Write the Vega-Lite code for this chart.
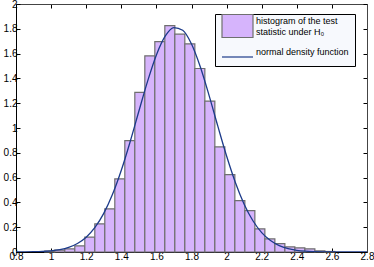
{
  "$schema": "https://vega.github.io/schema/vega-lite/v6.json",
  "width": 351,
  "height": 248,
  "autosize": {"type": "none"},
  "padding": {"left": 16, "top": 4, "right": 7, "bottom": 15},
  "background": "white",
  "config": {
    "view": {"stroke": null},
    "axis": {
      "labelFont": "Liberation Sans",
      "labelFontSize": 10,
      "labelColor": "#000",
      "labelFlush": false,
      "labelOverlap": false,
      "domainColor": "#000",
      "domainWidth": 1,
      "tickColor": "#000",
      "tickSize": -4,
      "tickWidth": 1,
      "grid": false,
      "title": null,
      "labelPadding": 3
    },
    "legend": {
      "labelFont": "Liberation Sans",
      "labelFontSize": 9,
      "labelColor": "#000",
      "orient": "none",
      "legendX": 199,
      "legendY": 10,
      "title": null,
      "strokeColor": "#000",
      "fillColor": "#f7f9fd",
      "padding": 6,
      "symbolSize": 100,
      "symbolOpacity": 1,
      "symbolStrokeWidth": 1.2,
      "labelOffset": 23,
      "labelLimit": 300,
      "rowPadding": 8,
      "labelBaseline": "bottom"
    }
  },
  "data": {
    "values": [
      {"lo": 0.964, "hi": 1.021, "h": 0.008, "s": "hist"},
      {"lo": 1.021, "hi": 1.078, "h": 0.015, "s": "hist"},
      {"lo": 1.078, "hi": 1.135, "h": 0.026, "s": "hist"},
      {"lo": 1.135, "hi": 1.192, "h": 0.05, "s": "hist"},
      {"lo": 1.192, "hi": 1.249, "h": 0.12, "s": "hist"},
      {"lo": 1.249, "hi": 1.306, "h": 0.227, "s": "hist"},
      {"lo": 1.306, "hi": 1.363, "h": 0.348, "s": "hist"},
      {"lo": 1.363, "hi": 1.42, "h": 0.589, "s": "hist"},
      {"lo": 1.42, "hi": 1.477, "h": 0.898, "s": "hist"},
      {"lo": 1.477, "hi": 1.534, "h": 1.287, "s": "hist"},
      {"lo": 1.534, "hi": 1.591, "h": 1.582, "s": "hist"},
      {"lo": 1.591, "hi": 1.648, "h": 1.697, "s": "hist"},
      {"lo": 1.648, "hi": 1.705, "h": 1.826, "s": "hist"},
      {"lo": 1.705, "hi": 1.762, "h": 1.757, "s": "hist"},
      {"lo": 1.762, "hi": 1.819, "h": 1.679, "s": "hist"},
      {"lo": 1.819, "hi": 1.876, "h": 1.48, "s": "hist"},
      {"lo": 1.876, "hi": 1.933, "h": 1.217, "s": "hist"},
      {"lo": 1.933, "hi": 1.99, "h": 0.847, "s": "hist"},
      {"lo": 1.99, "hi": 2.047, "h": 0.624, "s": "hist"},
      {"lo": 2.047, "hi": 2.104, "h": 0.415, "s": "hist"},
      {"lo": 2.104, "hi": 2.161, "h": 0.334, "s": "hist"},
      {"lo": 2.161, "hi": 2.218, "h": 0.187, "s": "hist"},
      {"lo": 2.218, "hi": 2.275, "h": 0.106, "s": "hist"},
      {"lo": 2.275, "hi": 2.332, "h": 0.068, "s": "hist"},
      {"lo": 2.332, "hi": 2.389, "h": 0.042, "s": "hist"},
      {"lo": 2.389, "hi": 2.446, "h": 0.034, "s": "hist"},
      {"lo": 2.446, "hi": 2.503, "h": 0.026, "s": "hist"},
      {"lo": 2.503, "hi": 2.56, "h": 0.01, "s": "hist"},
      {"lo": 2.56, "hi": 2.617, "h": 0.004, "s": "hist"}
    ]
  },
  "resolve": {"axis": {"x": "independent", "y": "independent"}},
  "layer": [
    {
      "mark": {"type": "bar", "fill": "#d6b4fc", "stroke": "#6f6f6f", "strokeWidth": 1.2, "opacity": 1},
      "encoding": {
        "x": {
          "field": "lo", "type": "quantitative",
          "scale": {"domain": [0.8, 2.8], "nice": false, "zero": false},
          "axis": {"orient": "bottom", "values": [0.8, 1, 1.2, 1.4, 1.6, 1.8, 2, 2.2, 2.4, 2.6, 2.8], "format": "~g"}
        },
        "x2": {"field": "hi"},
        "y": {
          "field": "h", "type": "quantitative",
          "scale": {"domain": [0, 2], "nice": false},
          "axis": {"orient": "left", "values": [0, 0.2, 0.4, 0.6, 0.8, 1, 1.2, 1.4, 1.6, 1.8, 2], "format": "~g"}
        },
        "y2": {"datum": 0}
      }
    },
    {
      "mark": {"type": "point", "opacity": 0, "strokeWidth": 1.2},
      "encoding": {
        "x": {"field": "lo", "type": "quantitative", "axis": null},
        "y": {"field": "h", "type": "quantitative", "axis": null},
        "fill": {
          "field": "s", "type": "nominal",
          "scale": {"domain": ["hist", "norm"], "range": ["#d6b4fc", "transparent"]},
          "legend": {"labelExpr": "datum.value === 'hist' ? ['histogram of the test', 'statistic under H₀'] : 'normal density function'"}
        },
        "stroke": {
          "field": "s", "type": "nominal",
          "scale": {"domain": ["hist", "norm"], "range": ["#6f6f6f", "#1c3a8a"]},
          "legend": {"labelExpr": "datum.value === 'hist' ? ['histogram of the test', 'statistic under H₀'] : 'normal density function'"}
        },
        "shape": {
          "field": "s", "type": "nominal",
          "scale": {"domain": ["hist", "norm"], "range": ["M-1,-2.3H5.2V2.3H-1Z", "M-1,0H5.2"]},
          "legend": {"labelExpr": "datum.value === 'hist' ? ['histogram of the test', 'statistic under H₀'] : 'normal density function'"}
        }
      }
    },
    {
      "data": {
        "values": [
          {"x": 0.8, "y": 0.0003},
          {"x": 0.85, "y": 0.0008},
          {"x": 0.9, "y": 0.002},
          {"x": 0.95, "y": 0.0044},
          {"x": 1.0, "y": 0.0095},
          {"x": 1.05, "y": 0.0193},
          {"x": 1.1, "y": 0.0374},
          {"x": 1.15, "y": 0.0686},
          {"x": 1.2, "y": 0.1196},
          {"x": 1.25, "y": 0.1981},
          {"x": 1.3, "y": 0.3114},
          {"x": 1.35, "y": 0.465},
          {"x": 1.4, "y": 0.659},
          {"x": 1.45, "y": 0.8875},
          {"x": 1.5, "y": 1.1349},
          {"x": 1.55, "y": 1.3782},
          {"x": 1.6, "y": 1.5893},
          {"x": 1.65, "y": 1.7405},
          {"x": 1.7, "y": 1.8102},
          {"x": 1.75, "y": 1.7879},
          {"x": 1.8, "y": 1.677},
          {"x": 1.85, "y": 1.4937},
          {"x": 1.9, "y": 1.2636},
          {"x": 1.95, "y": 1.015},
          {"x": 2.0, "y": 0.7743},
          {"x": 2.05, "y": 0.5611},
          {"x": 2.1, "y": 0.3859},
          {"x": 2.15, "y": 0.2522},
          {"x": 2.2, "y": 0.1564},
          {"x": 2.25, "y": 0.0922},
          {"x": 2.3, "y": 0.0516},
          {"x": 2.35, "y": 0.0274},
          {"x": 2.4, "y": 0.0138},
          {"x": 2.45, "y": 0.0066},
          {"x": 2.5, "y": 0.003},
          {"x": 2.55, "y": 0.0013},
          {"x": 2.6, "y": 0.0005},
          {"x": 2.65, "y": 0.0002},
          {"x": 2.7, "y": 0.0001},
          {"x": 2.75, "y": 0.0},
          {"x": 2.8, "y": 0.0}
        ]
      },
      "mark": {"type": "line", "color": "#1c3a8a", "strokeWidth": 1.3, "interpolate": "monotone", "clip": true},
      "encoding": {
        "x": {
          "field": "x", "type": "quantitative",
          "scale": {"domain": [0.8, 2.8], "nice": false, "zero": false},
          "axis": {"orient": "top", "labels": false, "domainColor": "#444", "values": [0.8, 1, 1.2, 1.4, 1.6, 1.8, 2, 2.2, 2.4, 2.6, 2.8]}
        },
        "y": {
          "field": "y", "type": "quantitative",
          "scale": {"domain": [0, 2], "nice": false},
          "axis": {"orient": "right", "labels": false, "domainColor": "#444", "values": [0, 0.2, 0.4, 0.6, 0.8, 1, 1.2, 1.4, 1.6, 1.8, 2]}
        }
      }
    }
  ]
}
